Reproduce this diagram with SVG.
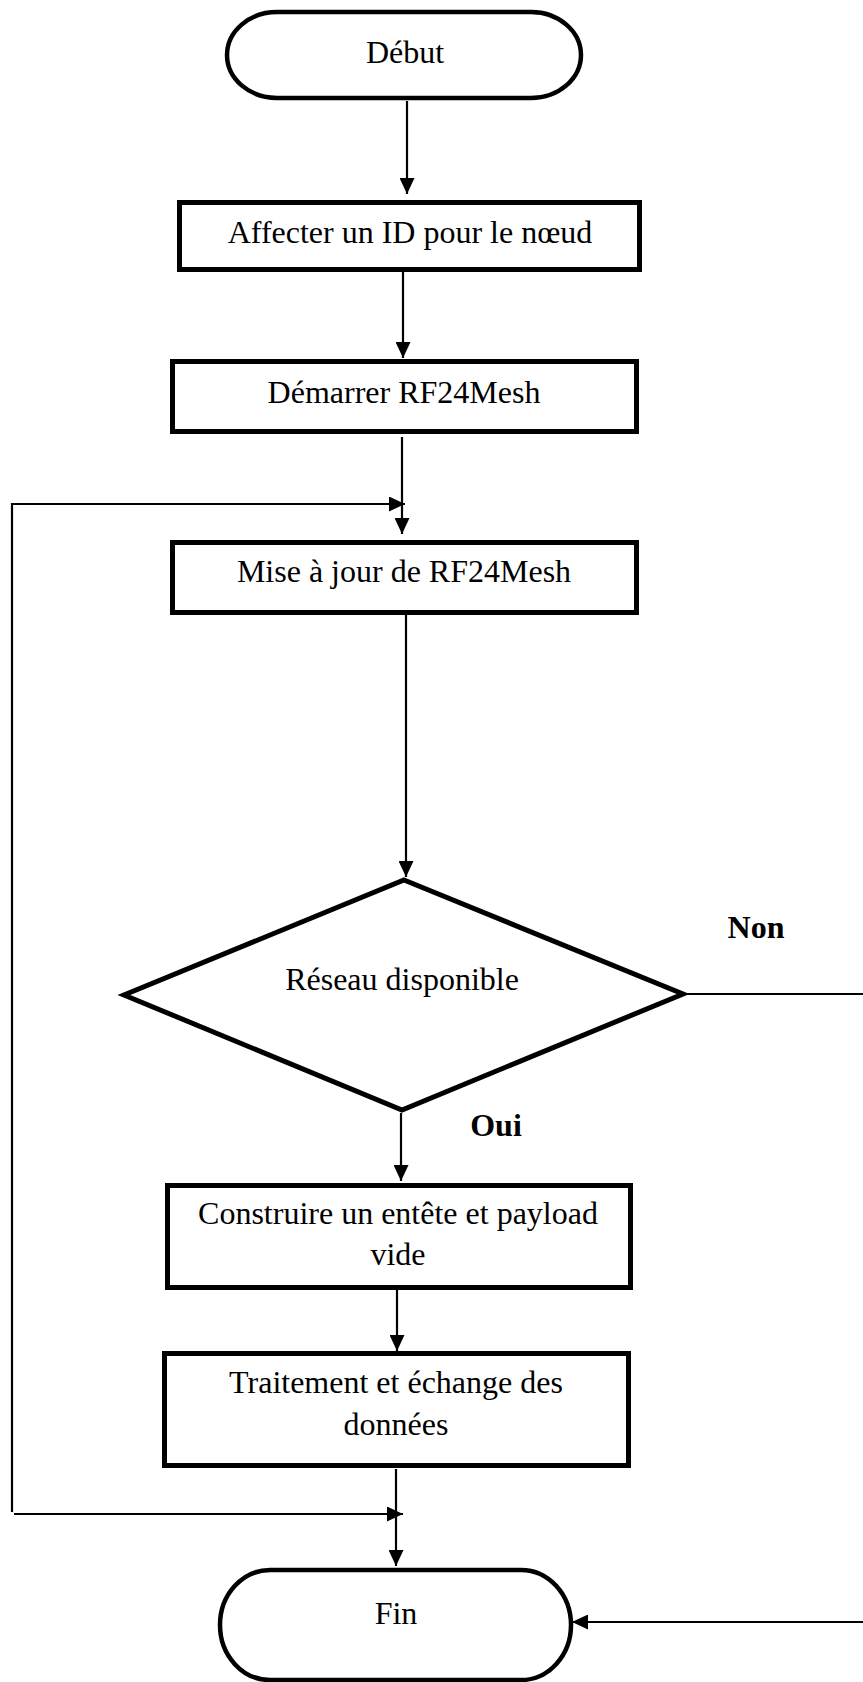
<svg xmlns="http://www.w3.org/2000/svg" width="863" height="1682" viewBox="0 0 863 1682">
<style>
.shape{fill:#fff;stroke:#000;stroke-width:5}
.term{fill:#fff;stroke:#000;stroke-width:4.5}
.t{font-family:"Liberation Serif","Times New Roman",serif;font-size:32px;fill:#000;text-anchor:middle}
.b{font-family:"Liberation Serif","Times New Roman",serif;font-size:32px;font-weight:bold;fill:#000;text-anchor:middle}
.c{fill:none;stroke:#000;stroke-width:2}
.ca{fill:none;stroke:#000;stroke-width:2.2;marker-end:url(#arr)}
</style>
<defs>
<marker id="arr" markerUnits="userSpaceOnUse" markerWidth="17" markerHeight="15" refX="16" refY="7.5" orient="auto" viewBox="0 0 17 15">
<path d="M0,0 L16,7.5 L0,15 Z" fill="#000"/>
</marker>
</defs>
<rect width="863" height="1682" fill="#fff"/>
<g id="connectors">
<line class="ca" x1="407" y1="101" x2="407" y2="194"/>
<line class="ca" x1="403" y1="272" x2="403" y2="358"/>
<line class="ca" x1="402" y1="437" x2="402" y2="534"/>
<polyline class="ca" points="12,1512 12,504 405,504"/>
<line class="ca" x1="406" y1="615" x2="406" y2="877"/>
<line class="ca" x1="401" y1="1113" x2="401" y2="1181"/>
<line class="ca" x1="397" y1="1290" x2="397" y2="1351"/>
<line class="ca" x1="396" y1="1469" x2="396" y2="1566"/>
<line class="ca" x1="14" y1="1514" x2="403" y2="1514"/>
<line class="c" x1="683" y1="994" x2="863" y2="994"/>
<line class="ca" x1="863" y1="1622" x2="572" y2="1622"/>
</g>
<g id="debut">
<path class="term" d="M277,12 H531 A50,43 0 0 1 531,98 H277 A50,43 0 0 1 277,12 Z"/>
<text class="t" x="405" y="63">Début</text>
</g>
<g id="affecter">
<rect class="shape" x="179.5" y="202.5" width="460" height="67"/>
<text class="t" x="410" y="243">Affecter un ID pour le nœud</text>
</g>
<g id="demarrer">
<rect class="shape" x="172.5" y="361.5" width="464" height="70"/>
<text class="t" x="404" y="403">Démarrer RF24Mesh</text>
</g>
<g id="miseajour">
<rect class="shape" x="172.5" y="542.5" width="464" height="70"/>
<text class="t" x="404" y="582">Mise à jour de RF24Mesh</text>
</g>
<g id="reseau">
<polygon class="shape" points="404,880 683,994 402,1110 124,995"/>
<text class="t" x="402" y="990">Réseau disponible</text>
</g>
<g id="labels">
<text class="b" x="756" y="938">Non</text>
<text class="b" x="496" y="1136">Oui</text>
</g>
<g id="construire">
<rect class="shape" x="167.5" y="1185.5" width="463" height="102"/>
<text class="t" x="398" y="1224">Construire un entête et payload</text>
<text class="t" x="398" y="1265">vide</text>
</g>
<g id="traitement">
<rect class="shape" x="164.5" y="1353.5" width="464" height="112"/>
<text class="t" x="396" y="1393">Traitement et échange des</text>
<text class="t" x="396" y="1435">données</text>
</g>
<g id="fin">
<path class="term" d="M270,1570 H521 A50,55 0 0 1 521,1680 H270 A50,55 0 0 1 270,1570 Z"/>
<text class="t" x="396" y="1624">Fin</text>
</g>
</svg>
